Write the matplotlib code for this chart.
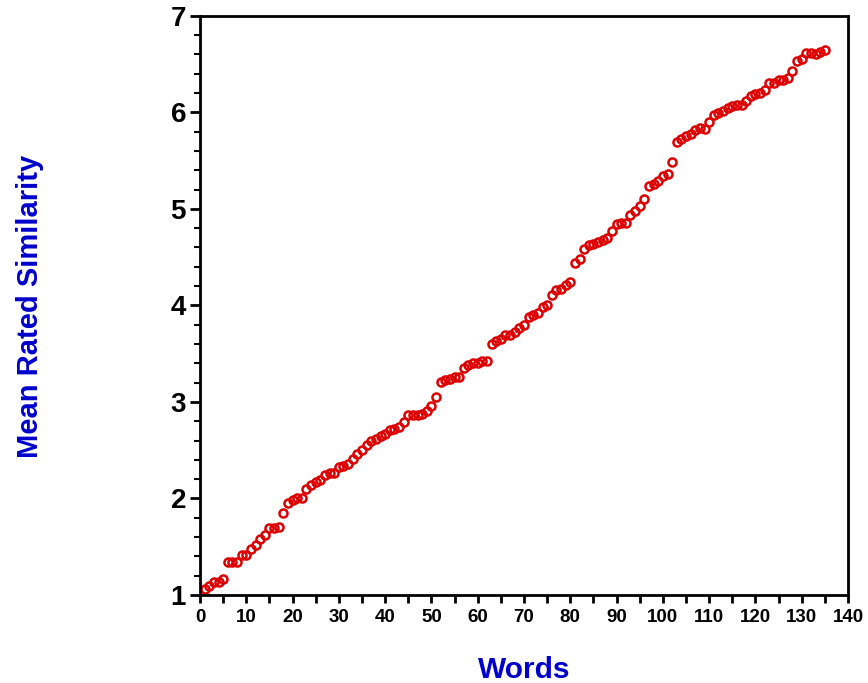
import matplotlib.pyplot as plt
import numpy as np

plt.rcParams['font.family'] = ['Liberation Sans', 'DejaVu Sans']

words = np.arange(1, 136)
similarity = [
    1.06, 1.09, 1.14, 1.14, 1.17, 1.34, 1.34, 1.34, 1.41, 1.41,
    1.48, 1.52, 1.58, 1.62, 1.69, 1.69, 1.70, 1.85, 1.95, 1.98,
    2.00, 2.00, 2.10, 2.14, 2.17, 2.19, 2.24, 2.26, 2.26, 2.33,
    2.34, 2.36, 2.41, 2.46, 2.50, 2.55, 2.60, 2.62, 2.65, 2.67,
    2.71, 2.72, 2.74, 2.79, 2.86, 2.86, 2.86, 2.87, 2.91, 2.96,
    3.05, 3.21, 3.23, 3.24, 3.26, 3.26, 3.35, 3.38, 3.40, 3.40,
    3.42, 3.42, 3.60, 3.63, 3.65, 3.69, 3.69, 3.72, 3.77, 3.80,
    3.88, 3.90, 3.92, 3.98, 4.00, 4.11, 4.16, 4.17, 4.21, 4.24,
    4.44, 4.48, 4.58, 4.63, 4.64, 4.66, 4.68, 4.70, 4.77, 4.84,
    4.85, 4.85, 4.94, 4.98, 5.03, 5.10, 5.24, 5.26, 5.29, 5.34,
    5.36, 5.48, 5.69, 5.72, 5.75, 5.77, 5.82, 5.84, 5.83, 5.90,
    5.97, 5.99, 6.01, 6.04, 6.06, 6.08, 6.08, 6.12, 6.17, 6.19,
    6.20, 6.23, 6.30, 6.30, 6.33, 6.33, 6.36, 6.43, 6.53, 6.55,
    6.61, 6.61, 6.60, 6.62, 6.64,
]

fig = plt.figure(figsize=(8.68, 6.83), dpi=100)
ax = fig.add_axes([0.2304, 0.1288, 0.7466, 0.8482])

ax.plot(words, similarity, 'o', markerfacecolor='none', markeredgecolor='#dd0000',
        markersize=5.8, markeredgewidth=1.8, clip_on=False)

ax.set_xlim(0, 140)
ax.set_ylim(1, 7)
ax.set_xticks(np.arange(0, 141, 10))
ax.set_xticks(np.arange(5, 140, 10), minor=True)
ax.set_yticks(np.arange(1, 8, 1))
ax.set_yticks(np.arange(1, 7.01, 0.2), minor=True)

for s in ax.spines.values():
    s.set_linewidth(2)

ax.tick_params(axis='x', which='both', direction='out', length=6, width=2, labelsize=13.5, pad=4)
ax.tick_params(axis='y', which='major', direction='out', length=7, width=2, labelsize=20, pad=3)
ax.tick_params(axis='y', which='minor', direction='out', length=4, width=1.5)

for lbl in ax.get_xticklabels() + ax.get_yticklabels():
    lbl.set_fontweight('bold')

ax.set_xlabel('Words', fontsize=21.5, fontweight='bold', color='#0000cc', labelpad=22)
fig.text(0.035, 0.552, 'Mean Rated Similarity', rotation=90, fontsize=21,
         fontweight='bold', color='#0000cc', ha='center', va='center')

fig.savefig('out.png', dpi=100)
